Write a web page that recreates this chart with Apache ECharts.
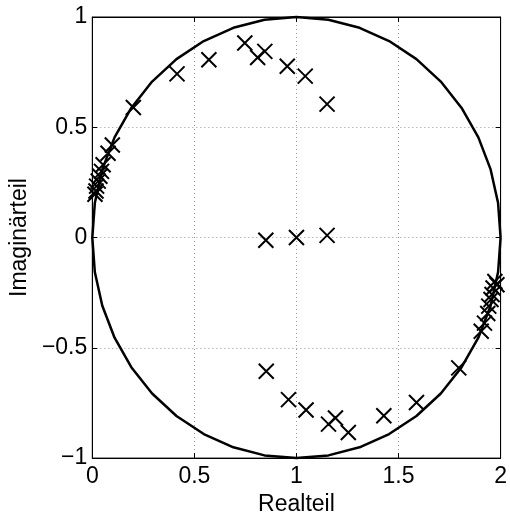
<!DOCTYPE html>
<html>
<head>
<meta charset="utf-8">
<script src="https://cdn.jsdelivr.net/npm/echarts@6/dist/echarts.min.js"></script>
<style>
  html, body { margin: 0; padding: 0; background: #fff; }
  #chart { width: 510px; height: 521px; }
</style>
</head>
<body>
<div id="chart"></div>
<script>
// Pole locations [Realteil, Imaginärteil]
const polesLeftCluster = [
  [0.098, 0.420], [0.077, 0.382], [0.053, 0.330], [0.045, 0.300],
  [0.037, 0.278], [0.029, 0.256], [0.021, 0.233], [0.018, 0.211], [0.013, 0.196]
];
const polesUpper = [
  [0.201, 0.590], [0.415, 0.742], [0.571, 0.806], [0.747, 0.882],
  [0.810, 0.816], [0.845, 0.844], [0.955, 0.777], [1.043, 0.732], [1.150, 0.605]
];
const polesCenter = [
  [0.850, -0.012], [1.000, 0.000], [1.150, 0.010]
];
const polesLower = [
  [0.852, -0.606], [0.961, -0.735], [1.047, -0.782], [1.157, -0.846],
  [1.191, -0.818], [1.254, -0.884], [1.428, -0.808], [1.588, -0.748], [1.795, -0.591]
];
const polesRightCluster = [
  [1.905, -0.425], [1.921, -0.388], [1.937, -0.344], [1.942, -0.311],
  [1.953, -0.281], [1.958, -0.258], [1.963, -0.229], [1.982, -0.214], [1.972, -0.199]
];

const xTicks = [0, 0.5, 1, 1.5, 2];
const yTicks = [-1, -0.5, 0, 0.5, 1];

// Reference circle: centre (1, 0), radius 1, drawn as a polygon
const circleSegments = 40;
const circle = [];
for (let k = 0; k <= circleSegments; k++) {
  const t = (2 * Math.PI * k) / circleSegments;
  circle.push([1 + Math.cos(t), Math.sin(t)]);
}

const poles = [].concat(polesLeftCluster, polesUpper, polesCenter, polesLower, polesRightCluster);

const font = '"Liberation Sans", Arial, Helvetica, sans-serif';
const fmt = v => String(v).replace('-', '\u2212');

const chart = echarts.init(document.getElementById('chart'), null, { renderer: 'canvas' });
chart.setOption({
  animation: false,
  backgroundColor: '#fff',
  grid: {
    left: 89, right: 7, top: 17, bottom: 57,
    show: true, borderColor: '#000', borderWidth: 1
  },
  xAxis: [{
    type: 'value', min: xTicks[0], max: xTicks[xTicks.length - 1], interval: 0.5,
    name: 'Realteil', nameLocation: 'middle', nameGap: 31,
    nameTextStyle: { fontFamily: font, fontSize: 23, color: '#000' },
    axisLine: { show: true, onZero: false, lineStyle: { color: '#000', width: 1 } },
    axisTick: { show: true, inside: true, length: 5, lineStyle: { color: '#000' } },
    axisLabel: { fontFamily: font, fontSize: 23, color: '#000', margin: 7, formatter: fmt },
    splitLine: { show: true, lineStyle: { color: '#9a9a9a', type: [1, 3], width: 1 } }
  }, {
    type: 'value', position: 'top', min: xTicks[0], max: xTicks[xTicks.length - 1], interval: 0.5,
    axisLine: { show: true, onZero: false, lineStyle: { color: '#000', width: 1 } },
    axisTick: { show: true, inside: true, length: 5, lineStyle: { color: '#000' } },
    axisLabel: { show: false }, splitLine: { show: false }
  }],
  yAxis: [{
    type: 'value', min: yTicks[0], max: yTicks[yTicks.length - 1], interval: 0.5,
    name: 'Imaginärteil', nameLocation: 'middle', nameGap: 52, nameRotate: 90,
    nameTextStyle: { fontFamily: font, fontSize: 23, color: '#000' },
    axisLine: { show: true, onZero: false, lineStyle: { color: '#000', width: 1 } },
    axisTick: { show: true, inside: true, length: 5, lineStyle: { color: '#000' } },
    axisLabel: { fontFamily: font, fontSize: 23, color: '#000', margin: 5, formatter: fmt },
    splitLine: { show: true, lineStyle: { color: '#9a9a9a', type: [1, 3], width: 1 } }
  }, {
    type: 'value', position: 'right', min: yTicks[0], max: yTicks[yTicks.length - 1], interval: 0.5,
    axisLine: { show: true, onZero: false, lineStyle: { color: '#000', width: 1 } },
    axisTick: { show: true, inside: true, length: 5, lineStyle: { color: '#000' } },
    axisLabel: { show: false }, splitLine: { show: false }
  }],
  series: [{
    type: 'line',
    data: circle,
    showSymbol: false,
    clip: false,
    lineStyle: { color: '#000', width: 2.5 },
    silent: true,
    z: 2
  }, {
    type: 'scatter',
    data: poles,
    symbol: 'path://M0,0L10,10M10,0L0,10',
    symbolSize: 15,
    itemStyle: { color: 'none', borderColor: '#000', borderWidth: 2, opacity: 1 },
    clip: false,
    z: 3
  }]
});
</script>
</body>
</html>
